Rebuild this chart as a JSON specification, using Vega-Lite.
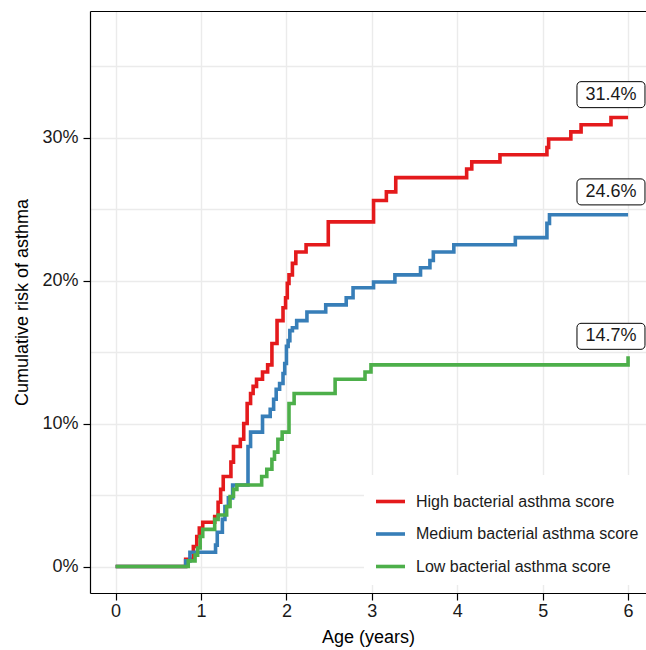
{
  "$schema": "https://vega.github.io/schema/vega-lite/v6.json",
  "width": 556,
  "height": 582,
  "autosize": {"type": "none"},
  "padding": {"left": 90, "top": 11, "right": 0, "bottom": 57},
  "background": "white",
  "config": {
    "view": {"stroke": null},
    "font": "Liberation Sans",
    "axis": {
      "domainColor": "black",
      "domainWidth": 1.2,
      "tickColor": "black",
      "tickWidth": 1.2,
      "tickSize": 7,
      "labelFont": "Liberation Sans",
      "labelFontSize": 18,
      "labelColor": "#1a1a1a",
      "titleFont": "Liberation Sans",
      "titleFontSize": 18,
      "titleFontWeight": "normal",
      "titleColor": "black",
      "gridColor": "#ebebeb",
      "gridWidth": 1.4
    },
    "legend": {
      "labelFont": "Liberation Sans",
      "labelFontSize": 16,
      "labelColor": "#1a1a1a",
      "labelLimit": 0
    }
  },
  "datasets": {
    "curves": [
      {"score": "High bacterial asthma score", "t": 0, "r": 0},
      {"score": "High bacterial asthma score", "t": 0.82, "r": 0.005},
      {"score": "High bacterial asthma score", "t": 0.91, "r": 0.014},
      {"score": "High bacterial asthma score", "t": 0.95, "r": 0.021},
      {"score": "High bacterial asthma score", "t": 0.98, "r": 0.027},
      {"score": "High bacterial asthma score", "t": 1.02, "r": 0.031},
      {"score": "High bacterial asthma score", "t": 1.16, "r": 0.035},
      {"score": "High bacterial asthma score", "t": 1.2, "r": 0.045},
      {"score": "High bacterial asthma score", "t": 1.23, "r": 0.054},
      {"score": "High bacterial asthma score", "t": 1.26, "r": 0.063},
      {"score": "High bacterial asthma score", "t": 1.35, "r": 0.073},
      {"score": "High bacterial asthma score", "t": 1.38, "r": 0.084},
      {"score": "High bacterial asthma score", "t": 1.46, "r": 0.089},
      {"score": "High bacterial asthma score", "t": 1.5, "r": 0.1},
      {"score": "High bacterial asthma score", "t": 1.54, "r": 0.114},
      {"score": "High bacterial asthma score", "t": 1.58, "r": 0.121},
      {"score": "High bacterial asthma score", "t": 1.61, "r": 0.126},
      {"score": "High bacterial asthma score", "t": 1.65, "r": 0.131},
      {"score": "High bacterial asthma score", "t": 1.72, "r": 0.136},
      {"score": "High bacterial asthma score", "t": 1.78, "r": 0.141},
      {"score": "High bacterial asthma score", "t": 1.83, "r": 0.156},
      {"score": "High bacterial asthma score", "t": 1.89, "r": 0.172},
      {"score": "High bacterial asthma score", "t": 1.96, "r": 0.181},
      {"score": "High bacterial asthma score", "t": 1.99, "r": 0.188},
      {"score": "High bacterial asthma score", "t": 2.01, "r": 0.198},
      {"score": "High bacterial asthma score", "t": 2.03, "r": 0.204},
      {"score": "High bacterial asthma score", "t": 2.07, "r": 0.212},
      {"score": "High bacterial asthma score", "t": 2.11, "r": 0.22},
      {"score": "High bacterial asthma score", "t": 2.23, "r": 0.225},
      {"score": "High bacterial asthma score", "t": 2.49, "r": 0.241},
      {"score": "High bacterial asthma score", "t": 3.02, "r": 0.256},
      {"score": "High bacterial asthma score", "t": 3.17, "r": 0.262},
      {"score": "High bacterial asthma score", "t": 3.28, "r": 0.272},
      {"score": "High bacterial asthma score", "t": 4.11, "r": 0.278},
      {"score": "High bacterial asthma score", "t": 4.17, "r": 0.283},
      {"score": "High bacterial asthma score", "t": 4.5, "r": 0.288},
      {"score": "High bacterial asthma score", "t": 5.05, "r": 0.293},
      {"score": "High bacterial asthma score", "t": 5.07, "r": 0.299},
      {"score": "High bacterial asthma score", "t": 5.33, "r": 0.304},
      {"score": "High bacterial asthma score", "t": 5.45, "r": 0.309},
      {"score": "High bacterial asthma score", "t": 5.8, "r": 0.314},
      {"score": "High bacterial asthma score", "t": 6.0, "r": 0.314},
      {"score": "Medium bacterial asthma score", "t": 0, "r": 0},
      {"score": "Medium bacterial asthma score", "t": 0.82, "r": 0.004},
      {"score": "Medium bacterial asthma score", "t": 0.87, "r": 0.01},
      {"score": "Medium bacterial asthma score", "t": 1.17, "r": 0.015},
      {"score": "Medium bacterial asthma score", "t": 1.19, "r": 0.024},
      {"score": "Medium bacterial asthma score", "t": 1.25, "r": 0.033},
      {"score": "Medium bacterial asthma score", "t": 1.28, "r": 0.042},
      {"score": "Medium bacterial asthma score", "t": 1.32, "r": 0.048},
      {"score": "Medium bacterial asthma score", "t": 1.37, "r": 0.057},
      {"score": "Medium bacterial asthma score", "t": 1.55, "r": 0.084},
      {"score": "Medium bacterial asthma score", "t": 1.58, "r": 0.094},
      {"score": "Medium bacterial asthma score", "t": 1.72, "r": 0.105},
      {"score": "Medium bacterial asthma score", "t": 1.81, "r": 0.11},
      {"score": "Medium bacterial asthma score", "t": 1.85, "r": 0.117},
      {"score": "Medium bacterial asthma score", "t": 1.88, "r": 0.124},
      {"score": "Medium bacterial asthma score", "t": 1.92, "r": 0.128},
      {"score": "Medium bacterial asthma score", "t": 1.96, "r": 0.135},
      {"score": "Medium bacterial asthma score", "t": 1.98, "r": 0.142},
      {"score": "Medium bacterial asthma score", "t": 2.0, "r": 0.154},
      {"score": "Medium bacterial asthma score", "t": 2.02, "r": 0.158},
      {"score": "Medium bacterial asthma score", "t": 2.04, "r": 0.165},
      {"score": "Medium bacterial asthma score", "t": 2.07, "r": 0.167},
      {"score": "Medium bacterial asthma score", "t": 2.12, "r": 0.172},
      {"score": "Medium bacterial asthma score", "t": 2.24, "r": 0.178},
      {"score": "Medium bacterial asthma score", "t": 2.46, "r": 0.183},
      {"score": "Medium bacterial asthma score", "t": 2.7, "r": 0.188},
      {"score": "Medium bacterial asthma score", "t": 2.78, "r": 0.195},
      {"score": "Medium bacterial asthma score", "t": 3.02, "r": 0.199},
      {"score": "Medium bacterial asthma score", "t": 3.27, "r": 0.204},
      {"score": "Medium bacterial asthma score", "t": 3.57, "r": 0.209},
      {"score": "Medium bacterial asthma score", "t": 3.68, "r": 0.214},
      {"score": "Medium bacterial asthma score", "t": 3.72, "r": 0.22},
      {"score": "Medium bacterial asthma score", "t": 3.96, "r": 0.225},
      {"score": "Medium bacterial asthma score", "t": 4.68, "r": 0.23},
      {"score": "Medium bacterial asthma score", "t": 5.05, "r": 0.24},
      {"score": "Medium bacterial asthma score", "t": 5.08, "r": 0.246},
      {"score": "Medium bacterial asthma score", "t": 6.0, "r": 0.246},
      {"score": "Low bacterial asthma score", "t": 0, "r": 0},
      {"score": "Low bacterial asthma score", "t": 0.85, "r": 0.004},
      {"score": "Low bacterial asthma score", "t": 0.93, "r": 0.008},
      {"score": "Low bacterial asthma score", "t": 0.96, "r": 0.013},
      {"score": "Low bacterial asthma score", "t": 0.99, "r": 0.021},
      {"score": "Low bacterial asthma score", "t": 1.02, "r": 0.026},
      {"score": "Low bacterial asthma score", "t": 1.16, "r": 0.033},
      {"score": "Low bacterial asthma score", "t": 1.2, "r": 0.036},
      {"score": "Low bacterial asthma score", "t": 1.3, "r": 0.042},
      {"score": "Low bacterial asthma score", "t": 1.34, "r": 0.049},
      {"score": "Low bacterial asthma score", "t": 1.38, "r": 0.054},
      {"score": "Low bacterial asthma score", "t": 1.42, "r": 0.057},
      {"score": "Low bacterial asthma score", "t": 1.71, "r": 0.063},
      {"score": "Low bacterial asthma score", "t": 1.77, "r": 0.068},
      {"score": "Low bacterial asthma score", "t": 1.83, "r": 0.075},
      {"score": "Low bacterial asthma score", "t": 1.86, "r": 0.08},
      {"score": "Low bacterial asthma score", "t": 1.9, "r": 0.089},
      {"score": "Low bacterial asthma score", "t": 1.95, "r": 0.094},
      {"score": "Low bacterial asthma score", "t": 2.03, "r": 0.114},
      {"score": "Low bacterial asthma score", "t": 2.09, "r": 0.121},
      {"score": "Low bacterial asthma score", "t": 2.57, "r": 0.131},
      {"score": "Low bacterial asthma score", "t": 2.92, "r": 0.136},
      {"score": "Low bacterial asthma score", "t": 2.99, "r": 0.141},
      {"score": "Low bacterial asthma score", "t": 6.0, "r": 0.147}
    ],
    "labels": [
      {"lx": 5.8, "ly": 0.33, "v": 0.314},
      {"lx": 5.8, "ly": 0.262, "v": 0.246},
      {"lx": 5.8, "ly": 0.161, "v": 0.147}
    ]
  },
  "layer": [
    {
      "data": {"name": "curves"},
      "mark": {"type": "line", "interpolate": "step-after", "strokeWidth": 3.6, "strokeCap": "butt", "strokeJoin": "miter"},
      "encoding": {
        "x": {
          "field": "t", "type": "quantitative",
          "scale": {"domain": [-0.3, 6.21], "nice": false, "zero": false},
          "axis": {
            "orient": "bottom", "values": [0, 1, 2, 3, 4, 5, 6], "grid": true,
            "labelPadding": 2, "titlePadding": 8, "title": "Age (years)"
          }
        },
        "y": {
          "field": "r", "type": "quantitative",
          "scale": {"domain": [-0.0185, 0.3885], "nice": false, "zero": false},
          "axis": {
            "orient": "left",
            "values": [0, 0.05, 0.1, 0.15, 0.2, 0.25, 0.3, 0.35],
            "format": ".0%", "grid": true,
            "labelExpr": "round(datum.value*100) % 10 == 0 && datum.value < 0.31 ? datum.label : ''",
            "tickOpacity": {"condition": {"test": "round(datum.value*100) % 10 == 0 && datum.value < 0.31", "value": 1}, "value": 0},
            "labelPadding": 5, "titlePadding": 10,
            "title": "Cumulative risk of asthma"
          }
        },
        "color": {
          "field": "score", "type": "nominal",
          "scale": {
            "domain": ["High bacterial asthma score", "Medium bacterial asthma score", "Low bacterial asthma score"],
            "range": ["#E41A1C", "#377EB8", "#4DAF4A"]
          },
          "legend": {
            "title": null, "orient": "none", "legendX": 274, "legendY": 464,
            "symbolType": "stroke", "symbolSize": 841, "symbolStrokeWidth": 3.6,
            "rowPadding": 7.5, "labelOffset": 9, "padding": 10, "labelLimit": 0,
            "fillColor": "white", "strokeColor": null
          }
        }
      }
    },
    {
      "data": {"name": "labels"},
      "mark": {"type": "rect", "width": 68, "height": 26, "cornerRadius": 4, "fill": "white", "stroke": "black", "strokeWidth": 1},
      "encoding": {
        "x": {"field": "lx", "type": "quantitative", "scale": {"domain": [-0.3, 6.21], "nice": false, "zero": false}, "axis": null},
        "y": {"field": "ly", "type": "quantitative", "scale": {"domain": [-0.0185, 0.3885], "nice": false, "zero": false}, "axis": null}
      }
    },
    {
      "data": {"name": "labels"},
      "mark": {"type": "text", "fontSize": 18, "baseline": "middle", "align": "center", "color": "#1a1a1a", "font": "Liberation Sans"},
      "encoding": {
        "x": {
          "field": "lx", "type": "quantitative",
          "scale": {"domain": [-0.3, 6.21], "nice": false, "zero": false},
          "axis": {"orient": "top", "labels": false, "ticks": false, "grid": false, "domain": true, "title": null}
        },
        "y": {"field": "ly", "type": "quantitative", "scale": {"domain": [-0.0185, 0.3885], "nice": false, "zero": false}, "axis": null},
        "text": {"field": "v", "type": "quantitative", "format": ".1%"}
      }
    },
    {
      "mark": {"type": "text", "fontSize": 21, "baseline": "middle", "align": "right", "dx": 85.5, "color": "#1a1a1a", "font": "Liberation Sans"},
      "encoding": {
        "x": {"datum": 3, "type": "quantitative", "scale": {"domain": [-0.3, 6.21], "nice": false, "zero": false}, "axis": null},
        "y": {"datum": 0.37, "type": "quantitative", "scale": {"domain": [-0.0185, 0.3885], "nice": false, "zero": false}, "axis": null},
        "text": {"value": "aHR 1.36 [1.13–1.63] per SD,"}
      }
    },
    {
      "mark": {"type": "text", "fontSize": 21, "baseline": "middle", "align": "left", "dx": 91.3, "fontStyle": "italic", "color": "#1a1a1a", "font": "Liberation Sans"},
      "encoding": {
        "x": {"datum": 3, "type": "quantitative", "scale": {"domain": [-0.3, 6.21], "nice": false, "zero": false}, "axis": null},
        "y": {"datum": 0.37, "type": "quantitative", "scale": {"domain": [-0.0185, 0.3885], "nice": false, "zero": false}, "axis": null},
        "text": {"value": "p"}
      }
    },
    {
      "mark": {"type": "text", "fontSize": 21, "baseline": "middle", "align": "left", "dx": 108.8, "color": "#1a1a1a", "font": "Liberation Sans"},
      "encoding": {
        "x": {"datum": 3, "type": "quantitative", "scale": {"domain": [-0.3, 6.21], "nice": false, "zero": false}, "axis": null},
        "y": {"datum": 0.37, "type": "quantitative", "scale": {"domain": [-0.0185, 0.3885], "nice": false, "zero": false}, "axis": null},
        "text": {"value": "= 0.0009"}
      }
    }
  ],
  "resolve": {"axis": {"x": "independent", "y": "independent"}}
}
